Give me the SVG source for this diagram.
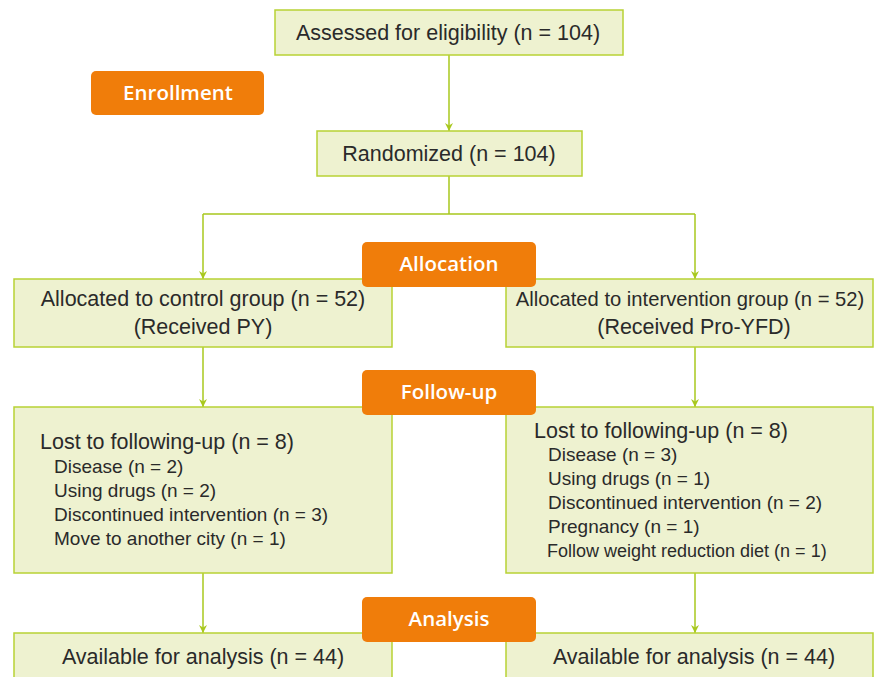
<svg xmlns="http://www.w3.org/2000/svg" width="877" height="677" viewBox="0 0 877 677">
<defs>
<marker id="ah" viewBox="0 0 10 10" refX="10" refY="5" markerWidth="8" markerHeight="8" markerUnits="userSpaceOnUse" orient="auto">
<path d="M0,0 L10,5 L0,10 L3,5 z" fill="#A8C81E"/>
</marker>
<style>
.box{fill:#EEF2D0;stroke:#B8D234;stroke-width:1.5}
.badge{fill:#F07D0A}
.t{font-family:"Liberation Sans",Arial,sans-serif;font-size:21.5px;fill:#2a2a2a}
.s{font-family:"Liberation Sans",Arial,sans-serif;font-size:19px;fill:#2a2a2a}
.b{font-family:"Open Sans","Liberation Sans",sans-serif;font-size:20.5px;font-weight:600;fill:#ffffff;text-anchor:middle}
.c{text-anchor:middle}
.ln{fill:none;stroke:#A8C81E;stroke-width:1.5}
</style>
</defs>
<rect width="877" height="677" fill="#ffffff"/>
<g id="connectors">
<path class="ln" d="M449,55 V131" marker-end="url(#ah)"/>
<path class="ln" d="M449,176 V214 M203,214 H695"/>
<path class="ln" d="M203,214 V279" marker-end="url(#ah)"/>
<path class="ln" d="M695,214 V279" marker-end="url(#ah)"/>
<path class="ln" d="M203,347 V407" marker-end="url(#ah)"/>
<path class="ln" d="M695,347 V407" marker-end="url(#ah)"/>
<path class="ln" d="M203,573 V633" marker-end="url(#ah)"/>
<path class="ln" d="M695,573 V633" marker-end="url(#ah)"/>
</g>
<g id="assessed">
<rect class="box" x="275" y="10" width="348" height="45"/>
<text class="t c" x="448" y="40">Assessed for eligibility (n = 104)</text>
</g>
<g id="enrollment">
<rect class="badge" x="91" y="71" width="173" height="44" rx="5"/>
<text class="b" x="178" y="100">Enrollment</text>
</g>
<g id="randomized">
<rect class="box" x="317" y="131" width="265" height="45"/>
<text class="t c" x="449" y="161">Randomized (n = 104)</text>
</g>
<g id="alloc-control">
<rect class="box" x="14" y="279" width="378" height="68"/>
<text class="t c" x="203" y="306">Allocated to control group (n = 52)</text>
<text class="t c" x="203" y="334">(Received PY)</text>
</g>
<g id="alloc-intervention">
<rect class="box" x="506" y="279" width="367" height="68"/>
<text class="t c" x="690" y="306" style="font-size:20.2px">Allocated to intervention group (n = 52)</text>
<text class="t c" x="694" y="334">(Received Pro-YFD)</text>
</g>
<g id="allocation">
<rect class="badge" x="362" y="242" width="174" height="45" rx="5"/>
<text class="b" x="449" y="271">Allocation</text>
</g>
<g id="lost-control">
<rect class="box" x="14" y="407" width="378" height="166"/>
<text class="t" x="40" y="449">Lost to following-up (n = 8)</text>
<text class="s" x="54" y="473">Disease (n = 2)</text>
<text class="s" x="54" y="497">Using drugs (n = 2)</text>
<text class="s" x="54" y="521">Discontinued intervention (n = 3)</text>
<text class="s" x="54" y="545">Move to another city (n = 1)</text>
</g>
<g id="lost-intervention">
<rect class="box" x="506" y="407" width="367" height="166"/>
<text class="t" x="534" y="438">Lost to following-up (n = 8)</text>
<text class="s" x="548" y="461">Disease (n = 3)</text>
<text class="s" x="548" y="485">Using drugs (n = 1)</text>
<text class="s" x="548" y="509">Discontinued intervention (n = 2)</text>
<text class="s" x="548" y="533">Pregnancy (n = 1)</text>
<text class="s" x="547" y="557" style="font-size:18px">Follow weight reduction diet (n = 1)</text>
</g>
<g id="followup">
<rect class="badge" x="362" y="370" width="174" height="45" rx="5"/>
<text class="b" x="449" y="399">Follow-up</text>
</g>
<g id="avail-control">
<rect class="box" x="14" y="633" width="378" height="60"/>
<text class="t c" x="203" y="664">Available for analysis (n = 44)</text>
</g>
<g id="avail-intervention">
<rect class="box" x="506" y="633" width="367" height="60"/>
<text class="t c" x="694" y="664">Available for analysis (n = 44)</text>
</g>
<g id="analysis">
<rect class="badge" x="362" y="597" width="174" height="45" rx="5"/>
<text class="b" x="449" y="626">Analysis</text>
</g>
</svg>
